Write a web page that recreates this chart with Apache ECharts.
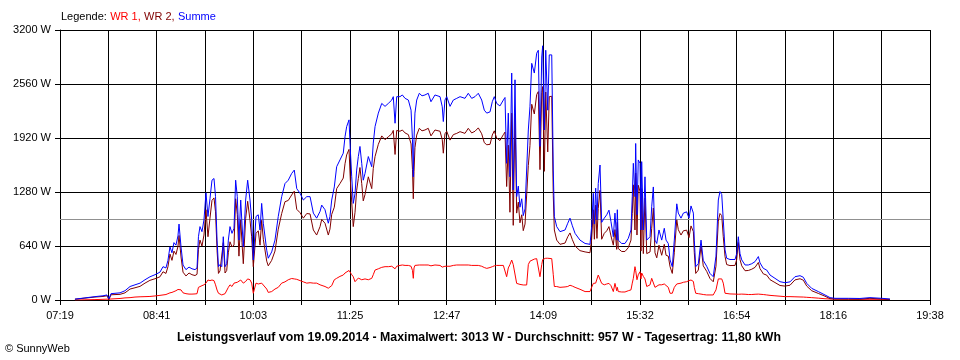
<!DOCTYPE html>
<html>
<head>
<meta charset="utf-8">
<script src="https://cdn.jsdelivr.net/npm/echarts@6/dist/echarts.min.js"></script>
<style>
html,body{margin:0;padding:0;background:#fff;}
#c{width:960px;height:360px;}
</style>
</head>
<body>
<div id="c"></div>
<script>
// x tick labels (every second vertical gridline carries a label)
const xLabels = ['07:19','08:41','10:03','11:25','12:47','14:09','15:32','16:54','18:16','19:38'];
const spanMinutes = 739;   // 07:19 -> 19:38
const gridSteps = 18;      // vertical gridline intervals
const yMax = 3200, yStep = 640;
const average = 957;

// minutes after 07:19
const minutes = [
12.7,21.2,29.7,36.5,39.9,41.6,43.3,51.0,55.2,59.5,63.7,68.0,72.2,76.4,80.7,84.9,87.5,90.0,91.7,93.4,95.1,96.8,98.5,100.2,101.1,102.8,104.5,107.0,109.6,112.1,114.7,116.4,117.6,118.9,
120.6,122.3,124.0,125.7,127.4,129.1,130.8,132.1,133.4,134.6,135.9,137.4,138.7,140.2,141.6,143.0,144.4,146.1,147.8,149.2,150.6,152.0,153.5,154.6,155.7,157.7,159.4,161.4,162.8,164.2,166.5,168.4,169.9,171.3,172.7,175.6,176.9,179.8,182.6,185.4,188.3,191.1,193.9,196.8,199.0,201.1,203.9,206.7,209.6,212.4,215.2,218.0,220.9,222.3,225.1,227.9,229.3,
230.8,233.0,235.0,237.8,240.6,242.1,243.5,245.5,246.6,247.8,249.1,250.6,252.0,253.4,254.8,256.3,257.6,259.1,261.9,264.8,266.1,267.6,270.4,273.3,276.1,278.9,281.8,283.1,284.6,286.0,288.8,290.8,293.1,295.9,298.2,299.4,300.1,300.7,301.5,303.0,305.2,307.5,310.0,312.8,315.1,318.5,322.8,324.7,325.6,327.0,328.5,331.3,334.1,337.0,339.8,
344.0,346.8,349.7,352.5,355.3,358.2,360.4,362.5,365.3,367.2,368.9,370.9,373.7,376.6,378.0,379.4,380.8,382.2,383.7,385.0,386.5,387.9,389.3,390.7,392.2,393.5,395.0,396.4,397.8,399.2,400.7,402.9,404.9,406.3,407.7,409.2,410.0,411.4,412.6,414.3,415.6,417.7,419.0,419.9,421.9,424.7,429.0,431.3,433.2,435.2,437.5,441.7,446.0,450.2,
451.6,453.0,453.9,455.0,456.1,457.2,458.7,460.1,462.3,464.4,466.3,468.0,470.0,471.4,472.9,473.4,474.2,477.1,479.9,482.7,485.0,486.1,487.0,488.4,489.0,490.1,491.2,492.7,493.5,494.1,495.5,496.9,498.4,499.7,501.2,502.6,504.0,505.4,506.9,508.8,511.1,513.3,514.8,516.7,518.2,520.1,521.8,523.9,525.2,527.5,529.5,532.3,534.3,536.0,538.0,538.8,540.0,542.2,544.5,546.4,549.3,552.1,554.9,557.2,559.2,560.6,562.1,563.4,564.9,566.3,569.1,573.4,574.8,576.2,577.6,579.1,581.9,584.7,587.6,590.4,593.2,594.6,597.4,600.3,603.1,607.3,611.6,615.8,620.1,624.3,628.6,631.4,634.3,638.5,644.1,649.8,654.1,658.3,669.6,679.5,688.0,698.0,705.0
];

const summe = [
10,25,40,50,60,15,75,85,110,160,180,200,240,275,300,330,395,380,470,630,560,680,650,760,900,630,415,360,390,370,360,380,750,870,
810,950,1270,990,1200,1420,1440,1225,710,395,420,395,750,395,430,710,870,790,850,1420,1225,710,1185,900,630,1185,1420,1185,950,475,990,1010,830,1145,910,590,495,570,710,990,1225,1380,1420,1500,1540,1320,1265,1185,1225,1225,1030,970,1050,1125,1070,910,990,
1185,1340,1580,1660,1740,1935,2055,2135,1780,1460,1145,1260,1540,1700,1820,1620,1420,1500,1700,1580,1860,2055,2215,2330,2295,2330,2370,2410,2095,2410,2410,2430,2390,2370,2250,1900,1460,1900,2215,2370,2450,2420,2430,2450,2350,2430,2410,2290,2115,2370,2410,2295,2370,2390,2410,
2390,2450,2390,2410,2450,2370,2250,2215,2230,2350,2410,2330,2300,2370,2400,1620,2215,1460,2690,1305,2610,1225,1350,1100,1200,1000,1080,1065,2015,2290,2805,2690,2925,2960,1820,2880,3013,2015,2960,2250,2905,2905,1540,990,870,810,830,910,970,880,790,710,670,660,
870,1265,900,1325,950,1380,1600,920,970,1010,1065,930,750,1030,710,1070,710,670,670,730,830,1225,1620,1225,1855,1010,1660,1620,830,1640,830,1460,710,710,750,1105,1340,710,670,830,710,850,710,670,475,395,710,1140,1030,970,1030,1045,970,1115,1030,710,395,430,710,470,400,315,276,520,1185,1285,1250,950,595,495,480,480,550,750,550,475,415,415,430,455,515,440,375,355,296,257,217,205,215,276,288,270,197,138,100,60,28,20,20,18,28,20,12
];

const wr1 = [
0,2,5,8,10,10,12,18,25,28,35,38,40,42,48,55,60,65,75,85,90,100,110,125,135,120,85,75,70,70,72,75,150,160,
170,180,200,237,230,237,230,180,118,80,75,60,70,75,80,150,180,160,200,220,210,190,237,220,200,220,250,240,200,80,200,190,180,200,190,130,90,100,130,150,200,215,240,255,250,245,230,215,200,205,200,200,180,170,160,140,150,
170,240,257,280,296,320,335,350,355,300,276,217,240,260,250,240,245,250,240,257,300,355,370,387,395,395,400,400,370,400,410,415,410,410,400,350,257,380,410,415,415,415,415,415,405,415,410,390,375,400,410,400,410,415,415,
415,415,410,410,410,400,385,375,385,395,405,410,410,410,410,276,380,420,474,420,400,197,190,185,190,178,180,178,420,460,482,485,490,490,276,420,480,490,495,495,495,490,300,160,160,150,155,160,175,165,150,127,100,100,
150,197,180,200,220,296,296,197,180,190,197,170,100,197,110,150,100,95,95,110,120,200,257,395,350,240,300,335,250,320,280,250,160,170,180,257,250,150,170,180,180,190,180,150,80,80,150,190,197,200,210,217,230,237,220,150,80,75,70,65,60,60,60,120,250,260,250,200,80,75,72,70,70,68,70,70,68,65,65,68,70,68,65,60,55,50,45,40,40,38,36,35,32,28,22,15,12,12,10,8,8,8,5
];

const wr2 = [
10,22,35,42,50,5,62,67,85,130,145,162,200,233,252,275,335,315,395,545,470,580,540,635,765,510,330,285,320,300,290,305,600,710,
640,770,1070,750,970,1180,1210,1045,590,315,345,335,680,320,350,560,690,630,650,1200,1015,520,950,680,430,965,1170,945,750,395,790,820,650,945,720,460,405,470,580,840,1025,1165,1180,1245,1290,1075,1035,970,1025,1020,830,770,870,955,910,770,840,
1015,1100,1320,1380,1445,1615,1720,1785,1425,1160,870,1040,1300,1440,1570,1380,1175,1250,1460,1320,1560,1700,1845,1945,1900,1935,1970,2010,1725,2010,2000,2015,1980,1960,1850,1550,1200,1520,1805,1955,2035,2005,2015,2035,1945,2015,2000,1900,1740,1970,2000,1895,1960,1975,1995,
1975,2035,1980,2000,2040,1970,1865,1840,1845,1955,2005,1920,1890,1960,1990,1345,1835,1040,2215,885,2210,1030,1160,915,1010,822,900,887,1595,1830,2320,2205,2435,2470,1545,2460,2530,1525,2465,1755,2410,2415,1240,830,710,660,675,750,795,715,640,585,570,560,
720,1070,720,1125,730,1085,1300,720,790,820,870,760,650,835,600,920,610,575,575,620,710,1025,1365,830,1505,770,1360,1285,580,1320,550,1210,550,540,570,850,1090,560,500,650,530,660,530,520,395,315,560,950,833,770,820,828,740,878,810,560,315,355,640,405,340,255,216,400,935,1025,1000,750,515,420,408,410,480,682,480,405,347,350,365,387,445,372,310,295,241,207,172,165,175,238,252,235,165,110,78,45,16,10,10,10,20,12,7
];

const toPoints = vals => vals.map((v, i) => [minutes[i] * gridSteps / spanMinutes, v]);

const FONT = '"Liberation Sans", Arial, sans-serif';
const chart = echarts.init(document.getElementById('c'), null, {renderer: 'canvas'});
chart.setOption({
  animation: false,
  backgroundColor: '#ffffff',
  grid: {left: 60, right: 30, top: 30, bottom: 60, containLabel: false},
  xAxis: {
    type: 'value', min: 0, max: gridSteps, interval: 1,
    axisLine: {show: true, lineStyle: {color: '#000', width: 1}},
    axisTick: {show: true, length: 5, lineStyle: {color: '#000'}},
    splitLine: {show: true, lineStyle: {color: '#000', width: 1}},
    axisLabel: {
      color: '#000', fontFamily: FONT, fontSize: 11, margin: 10,
      showMinLabel: true, showMaxLabel: true,
      formatter: v => (Math.round(v) % 2 === 0 ? xLabels[Math.round(v) / 2] : '')
    }
  },
  yAxis: {
    type: 'value', min: 0, max: yMax, interval: yStep,
    axisLine: {show: true, lineStyle: {color: '#000', width: 1}},
    axisTick: {show: true, length: 5, lineStyle: {color: '#000'}},
    splitLine: {show: true, lineStyle: {color: '#000', width: 1}},
    axisLabel: {color: '#000', fontFamily: FONT, fontSize: 11, margin: 9, formatter: v => String(v) + ' W'}
  },
  series: [
    {
      name: 'WR 1', type: 'line', data: toPoints(wr1), showSymbol: false, symbol: 'none',
      lineStyle: {color: '#ff0000', width: 1}, z: 3,
      markLine: {
        silent: true, symbol: ['none', 'none'], label: {show: false},
        lineStyle: {color: '#909090', width: 1, type: 'solid'},
        data: [{yAxis: average}], z: 1
      }
    },
    {name: 'WR 2', type: 'line', data: toPoints(wr2), showSymbol: false, symbol: 'none',
      lineStyle: {color: '#800000', width: 1}, z: 4},
    {name: 'Summe', type: 'line', data: toPoints(summe), showSymbol: false, symbol: 'none',
      lineStyle: {color: '#0000ff', width: 1}, z: 5}
  ],
  graphic: [
    {
      type: 'text', left: 61, top: 11,
      style: {
        text: '{k|Legende:} {a|WR 1,} {b|WR 2,} {c|Summe}',
        rich: {
          k: {fill: '#000', fontFamily: FONT, fontSize: 11},
          a: {fill: '#ff0000', fontFamily: FONT, fontSize: 11},
          b: {fill: '#800000', fontFamily: FONT, fontSize: 11},
          c: {fill: '#0000ff', fontFamily: FONT, fontSize: 11}
        }
      }
    },
    {
      type: 'text', x: 479, y: 338,
      style: {
        text: 'Leistungsverlauf vom 19.09.2014 - Maximalwert: 3013 W - Durchschnitt: 957 W - Tagesertrag: 11,80 kWh',
        fill: '#000', fontFamily: FONT, fontSize: 12.3, fontWeight: 'bold',
        textAlign: 'center', textVerticalAlign: 'middle'
      }
    },
    {
      type: 'text', x: 5, y: 349,
      style: {text: '\u00a9 SunnyWeb', fill: '#000', fontFamily: FONT, fontSize: 11,
        textAlign: 'left', textVerticalAlign: 'middle'}
    }
  ]
});
</script>
</body>
</html>
